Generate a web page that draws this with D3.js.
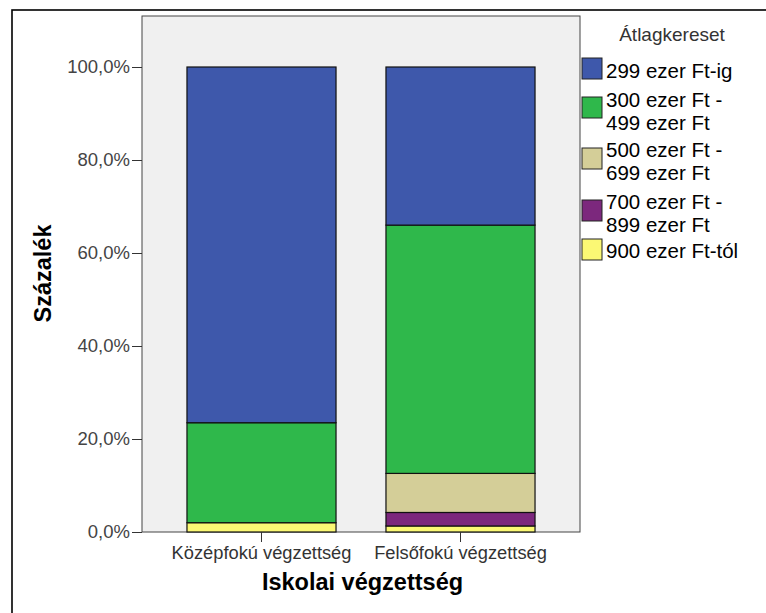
<!DOCTYPE html>
<html><head><meta charset="utf-8">
<script src="https://cdn.jsdelivr.net/npm/d3@7"></script>
<style>body{margin:0;background:#fff}svg{display:block;font-family:"Liberation Sans",Arial,sans-serif}</style>
</head><body>
<svg id="c" width="766" height="613"></svg>
<script>
const categories = ["Középfokú végzettség", "Felsőfokú végzettség"];
const seriesNames = ["299 ezer Ft-ig", "300 ezer Ft -\n499 ezer Ft", "500 ezer Ft -\n699 ezer Ft", "700 ezer Ft -\n899 ezer Ft", "900 ezer Ft-tól"];
const seriesColors = ["#3e58ab", "#2fb84b", "#d4ce98", "#7c287d", "#fbf874"];
// percentage values per category
const v299 = [76.5, 34.0];
const v300 = [21.5, 53.4];
const v500 = [0.0, 8.4];
const v700 = [0.0, 2.9];
const v900 = [2.0, 1.3];
const yTicks = [0, 20, 40, 60, 80, 100];
const legendTitle = "Átlagkereset";
const xTitle = "Iskolai végzettség";
const yTitle = "Százalék";

const svg = d3.select("#c");
// outer frame
svg.append("rect").attr("x",12).attr("y",10).attr("width",770).attr("height",620)
  .attr("fill","#fff").attr("stroke","#000").attr("stroke-width",1.6);

const pl = 142, pr = 580, pt = 16, pb = 532;
svg.append("rect").attr("x",pl).attr("y",pt).attr("width",pr-pl).attr("height",pb-pt)
  .attr("fill","#f0f0f0").attr("stroke","#444").attr("stroke-width",1);

const y = d3.scaleLinear().domain([0,100]).range([pb, 67]);
const x = d3.scaleBand().domain(categories).range([pl, pr]).paddingInner(0.251).paddingOuter(0.226);

const seriesVals = [v900, v700, v500, v300, v299];
const seriesIdx = [4,3,2,1,0];
const rows = categories.map((c,i)=>{const o={cat:c}; seriesVals.forEach((s,k)=>o["s"+k]=s[i]); return o;});
const stack = d3.stack().keys(seriesVals.map((s,k)=>"s"+k))(rows);

stack.forEach((layer,k)=>{
  svg.append("g").selectAll("rect").data(layer.filter(d=>d[1]-d[0]>0)).join("rect")
    .attr("x",d=>x(d.data.cat)).attr("width",x.bandwidth())
    .attr("y",d=>y(d[1])).attr("height",d=>y(d[0])-y(d[1]))
    .attr("fill",seriesColors[seriesIdx[k]]).attr("stroke","#111").attr("stroke-width",1.2);
});

// y axis
const ya = svg.append("g").attr("transform",`translate(${pl},0)`)
  .call(d3.axisLeft(y).tickValues(yTicks).tickSize(10).tickFormat(d=>d3.format(".1f")(d).replace(".",",")+"%"));
ya.select(".domain").remove();
ya.selectAll("line").attr("stroke","#333");
ya.selectAll("text").attr("font-size",18.5).attr("fill","#444").attr("font-family","Liberation Sans, Arial").attr("x",-12);

// x axis
const xa = svg.append("g").attr("transform",`translate(0,${pb})`)
  .call(d3.axisBottom(x).tickSize(10).tickSizeOuter(0));
xa.select(".domain").remove();
xa.selectAll("line").attr("stroke","#333");
xa.selectAll("text").attr("font-size",18.3).attr("fill","#333").attr("font-family","Liberation Sans, Arial")
  .attr("dy",null).attr("y",27);

svg.append("text").attr("x",362.5).attr("y",590).attr("text-anchor","middle")
  .attr("font-size",23.5).attr("font-weight","bold").text(xTitle);
svg.append("text").attr("transform","translate(51,273.5) rotate(-90)").attr("text-anchor","middle")
  .attr("font-size",23.5).attr("font-weight","bold").text(yTitle);

// legend
svg.append("text").attr("x",672).attr("y",41).attr("text-anchor","middle").attr("font-size",19).attr("fill","#333").text(legendTitle);
const swY = [58, 97, 148, 200, 239];
const txtY = [[78],[107,130],[157,180],[209,232],[258]];
seriesNames.forEach((n,i)=>{
  svg.append("rect").attr("x",582).attr("y",swY[i]).attr("width",20).attr("height",21)
    .attr("fill",seriesColors[i]).attr("stroke","#222").attr("stroke-width",1);
  n.split("\n").forEach((ln,j)=>{
    svg.append("text").attr("x",606).attr("y",txtY[i][j]).attr("font-size",20.5).attr("fill","#000").text(ln);
  });
});
</script>
</body></html>
